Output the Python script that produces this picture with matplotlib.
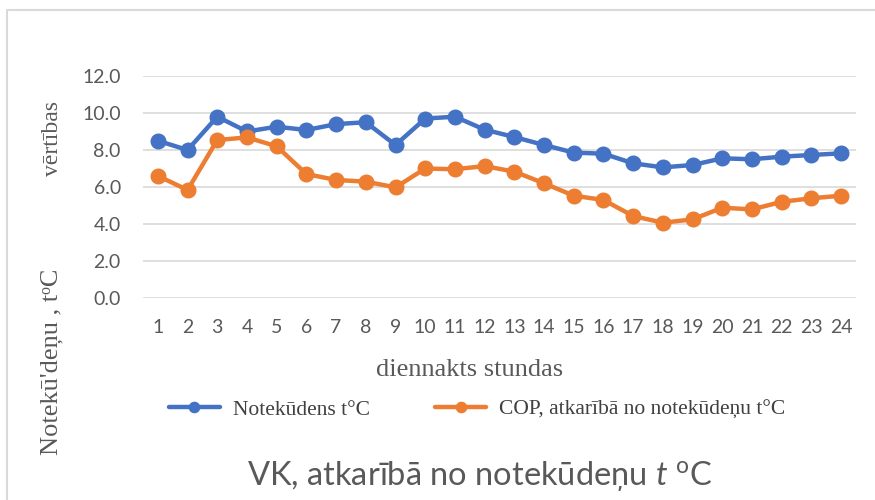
import matplotlib
matplotlib.use("Agg")
import matplotlib.pyplot as plt
from matplotlib.lines import Line2D
from matplotlib.ticker import FormatStrFormatter

plt.rcParams['mathtext.fontset'] = 'custom'
plt.rcParams['mathtext.rm'] = 'Lato'
plt.rcParams['mathtext.it'] = 'Lato:italic'

hours = list(range(1, 25))
water_temp = [8.5, 8.0, 9.8, 9.0, 9.26, 9.08, 9.4, 9.5, 8.27, 9.7, 9.8, 9.1,
              8.7, 8.27, 7.86, 7.8, 7.28, 7.06, 7.19, 7.55, 7.5, 7.64, 7.73, 7.82]
cop = [6.6, 5.84, 8.54, 8.68, 8.2, 6.7, 6.38, 6.29, 5.98, 7.0, 6.96, 7.13,
       6.83, 6.2, 5.53, 5.3, 4.43, 4.07, 4.25, 4.88, 4.79, 5.2, 5.39, 5.53]
yticks = [0, 2, 4, 6, 8, 10, 12]
series_names = ["Notekūdens t°C", "COP, atkarībā no notekūdeņu t°C"]

BLUE = "#4472C4"
ORANGE = "#ED7D31"
GRID = "#d9d9d9"
TXT = "#595959"

W, H = 875, 500
fig = plt.figure(figsize=(W / 100, H / 100), dpi=100)
ax = fig.add_axes([143 / W, 1 - 298 / H, (856 - 143) / W, (298 - 76) / H])

ax.plot(hours, water_temp, color=BLUE, lw=3.2, marker='o', ms=10.5, label=series_names[0],
        solid_capstyle='round', zorder=3)
ax.plot(hours, cop, color=ORANGE, lw=3.2, marker='o', ms=10.5, label=series_names[1],
        solid_capstyle='round', zorder=3)

ax.set_xlim(0.5, 24.5)
ax.set_ylim(0, 12)
ax.set_yticks(yticks)
ax.yaxis.set_major_formatter(FormatStrFormatter('%.1f'))
ax.set_xticks(hours)
ax.grid(axis='y', color=GRID, lw=1.2)
ax.set_axisbelow(True)
for s in ax.spines.values():
    s.set_visible(False)
ax.tick_params(axis='both', length=0, labelsize=14, labelcolor=TXT)
ax.tick_params(axis='y', pad=16)
ax.tick_params(axis='x', pad=15)
for lbl in ax.get_xticklabels() + ax.get_yticklabels():
    lbl.set_fontfamily('Lato')

# x label
fig.text(470 / W, 1 - 376 / H, "diennakts stundas", family='Liberation Serif',
         fontsize=19, color=TXT, ha='center', va='baseline')

# y label pieces
fig.text(52 / W, 1 - 362 / H, "Notekū'deņu , tᵒC", family=['Liberation Serif', 'DejaVu Serif'],
         fontsize=19, color=TXT, ha='center', va='center', rotation=90)
fig.text(52 / W, 1 - 139 / H, "vērtības", family='Liberation Serif',
         fontsize=17, color=TXT, ha='center', va='center', rotation=90)

# legend
leg = fig.legend(loc='center', bbox_to_anchor=(477 / W, 1 - 410 / H), ncol=2, frameon=False,
                 prop={'family': 'Liberation Serif', 'size': 15.5}, handlelength=2.4,
                 handletextpad=0.6, columnspacing=3.0, markerscale=0.7)
for t in leg.get_texts():
    t.set_color("#404040")

# title
fig.text(480 / W, 1 - 485 / H, r"VK, atkarībā no notekūdeņu $t$ $^{\mathrm{o}}$C",
         family='Lato', fontsize=23.5, color=TXT, ha='center', va='baseline')

# chart frame (left and top edges)
fig.add_artist(Line2D([7 / W, 7 / W, 1], [0, 1 - 10 / H, 1 - 10 / H],
                      transform=fig.transFigure, color=GRID, lw=1.5))

fig.savefig("out.png", dpi=100)
